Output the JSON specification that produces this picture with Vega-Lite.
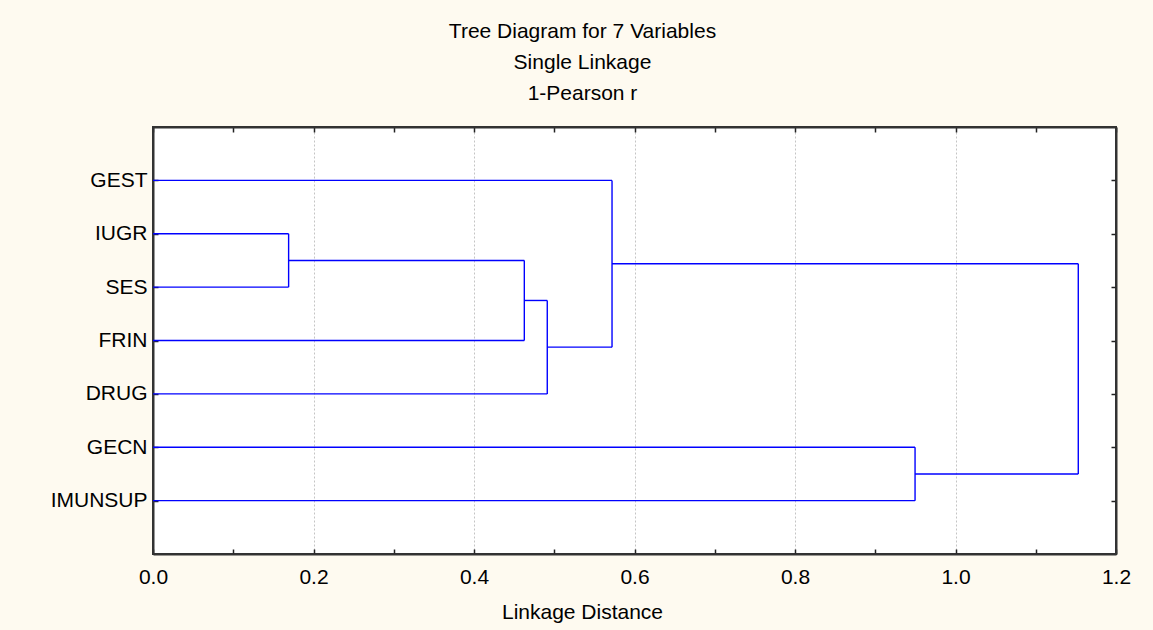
{
  "$schema": "https://vega.github.io/schema/vega-lite/v6.json",
  "autosize": {"type": "none"},
  "width": 963,
  "height": 427,
  "padding": {"left": 153, "top": 127, "right": 37, "bottom": 76},
  "background": "#FEFAF0",
  "title": {
    "text": ["Tree Diagram for 7 Variables", "Single Linkage", "1-Pearson r"],
    "anchor": "middle",
    "frame": "group",
    "dx": -52,
    "offset": 22,
    "font": "Liberation Sans",
    "fontSize": 21,
    "fontWeight": "normal",
    "color": "#000000",
    "lineHeight": 31
  },
  "config": {
    "view": {"fill": "#FFFFFF", "stroke": "#333333", "strokeWidth": 2},
    "axis": {
      "labelFont": "Liberation Sans",
      "labelFontSize": 21,
      "labelColor": "#000000",
      "titleFont": "Liberation Sans",
      "titleFontSize": 21,
      "titleFontWeight": "normal",
      "titleColor": "#000000",
      "domainColor": "#333333",
      "domainWidth": 2,
      "tickColor": "#222222",
      "tickWidth": 1.5,
      "tickSize": -5
    }
  },
  "data": {
    "values": [
      {"x": 0, "x2": 0.572, "y": 1, "y2": 1},
      {"x": 0, "x2": 0.169, "y": 2, "y2": 2},
      {"x": 0, "x2": 0.169, "y": 3, "y2": 3},
      {"x": 0, "x2": 0.4627, "y": 4, "y2": 4},
      {"x": 0, "x2": 0.4913, "y": 5, "y2": 5},
      {"x": 0, "x2": 0.9496, "y": 6, "y2": 6},
      {"x": 0, "x2": 0.9496, "y": 7, "y2": 7},
      {"x": 0.169, "x2": 0.4627, "y": 2.5, "y2": 2.5},
      {"x": 0.4627, "x2": 0.4913, "y": 3.25, "y2": 3.25},
      {"x": 0.4913, "x2": 0.572, "y": 4.125, "y2": 4.125},
      {"x": 0.572, "x2": 1.153, "y": 2.5625, "y2": 2.5625},
      {"x": 0.9496, "x2": 1.153, "y": 6.5, "y2": 6.5},
      {"x": 0.169, "x2": 0.169, "y": 2, "y2": 3},
      {"x": 0.4627, "x2": 0.4627, "y": 2.5, "y2": 4},
      {"x": 0.4913, "x2": 0.4913, "y": 3.25, "y2": 5},
      {"x": 0.572, "x2": 0.572, "y": 1, "y2": 4.125},
      {"x": 0.9496, "x2": 0.9496, "y": 6, "y2": 7},
      {"x": 1.153, "x2": 1.153, "y": 2.5625, "y2": 6.5}
    ]
  },
  "layer": [
    {
      "mark": {"type": "rule", "color": "#0000FF", "strokeWidth": 1.4},
      "encoding": {
        "x": {
          "field": "x", "type": "quantitative",
          "scale": {"domain": [0, 1.2], "nice": false, "zero": false},
          "axis": {
            "orient": "bottom",
            "title": "Linkage Distance",
            "titleX": 429,
            "titleY": 64,
            "titleBaseline": "alphabetic",
            "titleAnchor": "middle",
            "values": [0, 0.1, 0.2, 0.3, 0.4, 0.5, 0.6, 0.7, 0.8, 0.9, 1.0, 1.1, 1.2],
            "labelExpr": "round(datum.value*10)%2==0 ? format(datum.value,'.1f') : ''",
            "labelBaseline": "alphabetic",
            "labelPadding": 34,
            "labelFlush": false,
            "labelOverlap": false,
            "grid": true,
            "gridColor": "#C4C4C4",
            "gridDash": [2, 2],
            "gridWidth": 1,
            "gridOpacity": {"condition": {"test": "round(datum.value*10)%2==0 && datum.value>0.01 && datum.value<1.19", "value": 1}, "value": 0}
          }
        },
        "x2": {"field": "x2"},
        "y": {
          "field": "y", "type": "quantitative",
          "scale": {"domain": [0, 8], "reverse": true, "nice": false, "zero": false},
          "axis": {
            "orient": "left",
            "title": null,
            "values": [1, 2, 3, 4, 5, 6, 7],
            "labelExpr": "['','GEST','IUGR','SES','FRIN','DRUG','GECN','IMUNSUP'][datum.value]",
            "labelAlign": "right",
            "labelBaseline": "middle",
            "labelPadding": 11,
            "grid": false
          }
        },
        "y2": {"field": "y2"}
      }
    },
    {
      "mark": {"type": "rule", "opacity": 0},
      "encoding": {
        "x": {
          "field": "x", "type": "quantitative",
          "axis": {
            "orient": "top",
            "title": null,
            "values": [0, 0.1, 0.2, 0.3, 0.4, 0.5, 0.6, 0.7, 0.8, 0.9, 1.0, 1.1, 1.2],
            "labels": false,
            "grid": false
          }
        },
        "x2": {"field": "x2"},
        "y": {
          "field": "y", "type": "quantitative",
          "axis": {
            "orient": "right",
            "title": null,
            "values": [1, 2, 3, 4, 5, 6, 7],
            "labels": false,
            "grid": false
          }
        },
        "y2": {"field": "y2"}
      }
    }
  ],
  "resolve": {"axis": {"x": "independent", "y": "independent"}}
}
